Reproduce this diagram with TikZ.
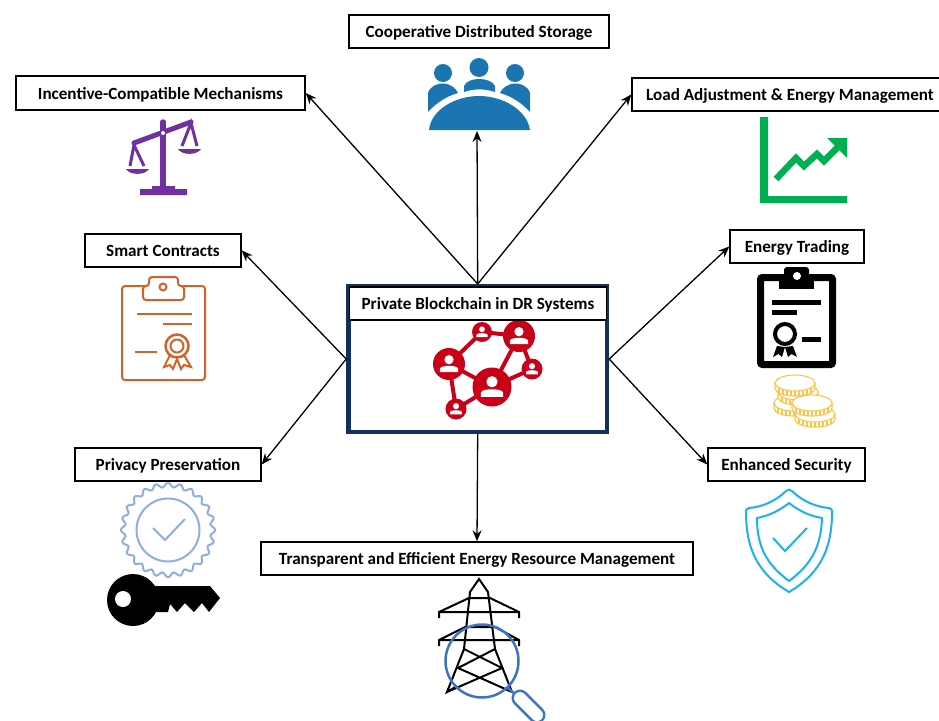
\documentclass[tikz,border=0pt]{standalone}
\usepackage{fontspec}
\setmainfont{Carlito}
\usetikzlibrary{arrows.meta}

\definecolor{navyline}{HTML}{12305A}
\definecolor{netred}{HTML}{C80018}
\definecolor{peopleblue}{HTML}{1A75B0}
\definecolor{scalepurple}{HTML}{7030A0}
\definecolor{chartgreen}{HTML}{00B050}
\definecolor{contractorange}{HTML}{D2622A}
\definecolor{coinyellow}{HTML}{FFC445}
\definecolor{badgeblue}{HTML}{8FAEDF}
\definecolor{shieldcyan}{HTML}{1CB2EA}
\definecolor{lensblue}{HTML}{3F75C0}

\tikzset{
    labelbox/.style={draw=black, fill=white, line width=1.4pt, inner sep=0pt, minimum height=33pt, text height=13pt, text depth=1pt, font=\bfseries\fontsize{17.1}{20}\selectfont},
    link/.style={line width=1.3pt, -{Stealth[length=11pt, width=9pt]}},
}

% one member of the network: red disc with a white person on it
\newcommand{\peer}[3]{
    \fill[netred] (#1,#2) circle[radius=#3pt];
    \fill[white] (#1,{#2-0.27*#3}) circle[radius=0.29*#3pt];
    \fill[white] ({#1-0.57*#3},{#2+0.5*#3}) -- ({#1-0.57*#3},{#2+0.28*#3}) .. controls ({#1-0.5*#3},{#2+0.06*#3}) and ({#1+0.5*#3},{#2+0.06*#3}) .. ({#1+0.57*#3},{#2+0.28*#3}) -- ({#1+0.57*#3},{#2+0.5*#3}) -- cycle;
}

% one coin, top face centred on the two coordinates
\newcommand{\coin}[2]{
    \filldraw[coinyellow, fill=white, line width=1.1pt] (#1-20,#2) -- (#1-20,#2+5) .. controls (#1-20,#2+15.7) and (#1+20,#2+15.7) .. (#1+20,#2+5) -- (#1+20,#2) -- cycle;
    \foreach \t in {-16,-12,...,16}
        \draw[coinyellow, line width=1.1pt] ({#1+\t},{#2+8*sqrt(1-(\t/20)^2)}) -- ({#1+\t},{#2+5+8*sqrt(1-(\t/20)^2)});
    \filldraw[coinyellow, fill=white, line width=1.1pt] (#1,#2) ellipse[x radius=20pt, y radius=8pt];
}

\begin{document}
\begin{tikzpicture}[x=1pt, y=-1pt]
    \useasboundingbox (0,0) rectangle (939,720);

    % boxes
    \node[draw=navyline, line width=4.5pt, minimum width=258.5pt, minimum height=145.5pt, inner sep=0pt] (main) at (477.7,359) {};
    \node[labelbox, minimum width=260pt] (storage) at (479,31.5) {Cooperative Distributed Storage};
    \node[labelbox, minimum width=289pt, minimum height=34pt] (incentive) at (160.5,93) {Incentive-Compatible Mechanisms};
    \node[labelbox, minimum width=316pt] (load) at (790,94.5) {Load Adjustment \& Energy Management};
    \node[labelbox, minimum width=156pt] (contracts) at (163,250.5) {Smart Contracts};
    \node[labelbox, minimum width=134pt] (trading) at (797,246.5) {Energy Trading};
    \node[labelbox, minimum width=186pt] (privacy) at (168,464.5) {Privacy Preservation};
    \node[labelbox, minimum width=157pt] (security) at (786.5,464.5) {Enhanced Security};
    \node[labelbox, minimum width=432pt] (resource) at (477,558.5) {Transparent and Efficient Energy Resource Management};

    % network icon
    \draw[netred, line width=4pt]
        (449,364) -- (482,332) -- (519,336) -- (492,387) -- (449,364) -- (456,409) -- (492,387) -- (532,369) -- (519,336);
    \peer{492}{387}{19.5}
    \peer{449}{364}{16}
    \peer{519}{336}{16}
    \peer{482}{332}{10}
    \peer{532}{369}{10.5}
    \peer{456}{409}{10.5}
    \node[labelbox, minimum width=257pt, minimum height=33pt] (title) at (478,303.5) {Private Blockchain in DR Systems};

    % people icon
    \coordinate (people) at (477,131);
    \fill[peopleblue] (443,73) circle[radius=9pt] (479,67.5) circle[radius=9.5pt] (515,73) circle[radius=9pt];
    \fill[peopleblue] (428,112) -- (428,93) .. controls (430,86) and (438,83) .. (444,83.5) .. controls (450,84) and (456,88) .. (458,93) .. controls (447,96) and (436,103) .. (428,112) -- cycle;
    \fill[peopleblue] (530,112) -- (530,93) .. controls (528,86) and (520,83) .. (514,83.5) .. controls (508,84) and (502,88) .. (500,93) .. controls (511,96) and (522,103) .. (530,112) -- cycle;
    \fill[peopleblue] (464,92) -- (464,86) .. controls (466,81) and (473,79) .. (479,79) .. controls (485,79) and (493,81) .. (495,86) -- (495,92) .. controls (485,88.5) and (474,88.5) .. (464,92) -- cycle;
    \fill[peopleblue] (429,130) .. controls (431,110) and (455,96) .. (479,96) .. controls (503,96) and (527,110) .. (530,130) -- cycle;

    % scales icon
    \draw[scalepurple, line width=5.5pt, line cap=round] (163,122) -- (163,188);
    \draw[scalepurple, line width=5pt, line cap=round] (134,143) -- (191,122);
    \fill[white] (163,133) circle[radius=2pt];
    \fill[scalepurple] (140,189) rectangle (187,195) (152,186) rectangle (175,190);
    \draw[scalepurple, line width=3pt] (130,166) -- (134,145) -- (144,166);
    \draw[scalepurple, line width=3pt] (182,146) -- (191,123) -- (197,146);
    \fill[scalepurple] (126,169) .. controls (130,175.5) and (145,175.5) .. (149,169) -- cycle;
    \fill[scalepurple] (178,149) .. controls (182,155.5) and (197,155.5) .. (201,149) -- cycle;

    % chart icon
    \fill[chartgreen] (760,117) -- (768,117) -- (768,196) -- (847,196) -- (847,203) -- (760,203) -- cycle;
    \draw[chartgreen, line width=6.5pt] (776,179) -- (796,158) -- (804,166) -- (817,154) -- (824,161) -- (840,145);
    \fill[chartgreen] (827,138) -- (847,138) -- (847,158) -- cycle;

    % black contract icon
    \draw[black, line width=7pt, rounded corners=2pt] (760.5,277.5) rectangle (832.5,364.5);
    \fill[black, rounded corners=3pt] (784,280) -- (784,267) -- (809,267) -- (809,280) -- cycle;
    \fill[black] (779,274) rectangle (814,289);
    \fill[white] (797,276) circle[radius=4pt];
    \draw[black, line width=5pt] (772,302) -- (821,302) (772,312.5) -- (797,312.5) (802,339) -- (821,339);
    \draw[black, line width=4pt] (785,334) circle[radius=10pt];
    \fill[black] (777,346) -- (773,357) -- (778.5,354) -- (782,357) -- (785,347) -- cycle;
    \fill[black] (793,346) -- (797,357) -- (791.5,354) -- (788,357) -- (785,347) -- cycle;

    % coins icon
    \coin{794}{403}
    \coin{798}{392}
    \coin{795}{383}
    \coin{815}{414}
    \coin{812}{403}

    % orange contract icon
    \draw[contractorange, line width=2pt, rounded corners=3pt] (122,286) rectangle (205,380);
    \filldraw[contractorange, fill=white, line width=2pt, rounded corners=3pt] (143,286) -- (143,300) -- (184,300) -- (184,286) -- (178,286) -- (178,277) -- (149,277) -- (149,286) -- cycle;
    \draw[contractorange, line width=2pt] (163,287) circle[radius=3.5pt];
    \draw[contractorange, line width=2pt] (137,314) -- (192,314) (163,324) -- (192,324) (135,352) -- (157,352);
    \draw[contractorange, line width=2pt] (170,355) -- (164,367) -- (170,365) -- (173,369) -- (177,359) -- (181,369) -- (184,365) -- (191,367) -- (184,355);
    \draw[contractorange, fill=white, line width=2.5pt] (177,346) circle[radius=11.5pt];
    \draw[contractorange, line width=2pt] (177,346) circle[radius=6.5pt];

    % badge icon
    \draw[badgeblue, line width=2pt] plot[domain=0:360, samples=240, smooth] ({168+(45+2.2*cos(24*\x))*cos(\x)},{530+(45+2.2*cos(24*\x))*sin(\x)}) -- cycle;
    \draw[badgeblue, line width=2pt] (168,530) circle[radius=31.5pt];
    \draw[badgeblue, line width=2pt] (153,528) -- (165,540) -- (185,519);

    % key icon
    \fill[black] (133,600) circle[radius=26pt];
    \fill[black] (150,586) -- (210,586) -- (220,598) -- (209,612) -- (202,603) -- (194,612) -- (185,603) -- (177,612) -- (170,604) -- (168,612) -- (150,612) -- cycle;
    \fill[white] (123,599) circle[radius=8pt];

    % shield icon
    \draw[shieldcyan, line width=2pt, line join=round] (786,491) .. controls (776,501) and (762,507) .. (749,508) .. controls (746,508.5) and (746,510) .. (746,512) .. controls (746,545) and (755,572) .. (789,592) .. controls (823,572) and (832,545) .. (832,512) .. controls (832,510) and (832,508.5) .. (829,508) .. controls (816,507) and (802,501) .. (792,491) .. controls (790,489) and (788,489) .. (786,491) -- cycle;
    \draw[shieldcyan, line width=2pt, line join=round] (789,503) .. controls (779,511) and (768,516) .. (757,518) .. controls (757,546) and (766,564) .. (789,581) .. controls (812,564) and (821,546) .. (822,518) .. controls (810,516) and (799,511) .. (789,503) -- cycle;
    \draw[shieldcyan, line width=2pt] (773,538) -- (785,551) -- (807,528);

    % pylon icon
    \draw[black, line width=2pt]
        (457,686) -- (447,692) -- (464,649) -- (470,592) -- (479,579) -- (488,592) -- (495,649) -- (512,692)
        (439,618) -- (439,612) -- (469,598) -- (490,598) -- (519,612) -- (519,618) (439,612) -- (519,612)
        (439,646) -- (439,640) -- (465,627) -- (495,627) -- (519,640) -- (519,646) (439,640) -- (519,640)
        (464,649) -- (502,668) -- (447,692)
        (495,649) -- (458,668) -- (512,692);
    \draw[lensblue, line width=2.5pt] (482,661) circle[radius=36.5pt];
    \draw[lensblue, line width=2.5pt] (508,688) -- (515,694);
    \draw[lensblue, line width=17pt, line cap=round] (520,698) -- (537,715);
    \draw[white, line width=12pt, line cap=round] (520,698) -- (537,715);

    % arrows
    \draw[link] (main.north) -- (people);
    \draw[link] (main.north) -- (incentive.east);
    \draw[link] (main.north) -- (load.west);
    \draw[link] (main.west) -- (contracts.east);
    \draw[link] (main.west) -- (privacy.east);
    \draw[link] (main.east) -- (trading.west);
    \draw[link] (main.east) -- (security.west);
    \draw[link] (main.south) -- (resource.north);
\end{tikzpicture}
\end{document}
